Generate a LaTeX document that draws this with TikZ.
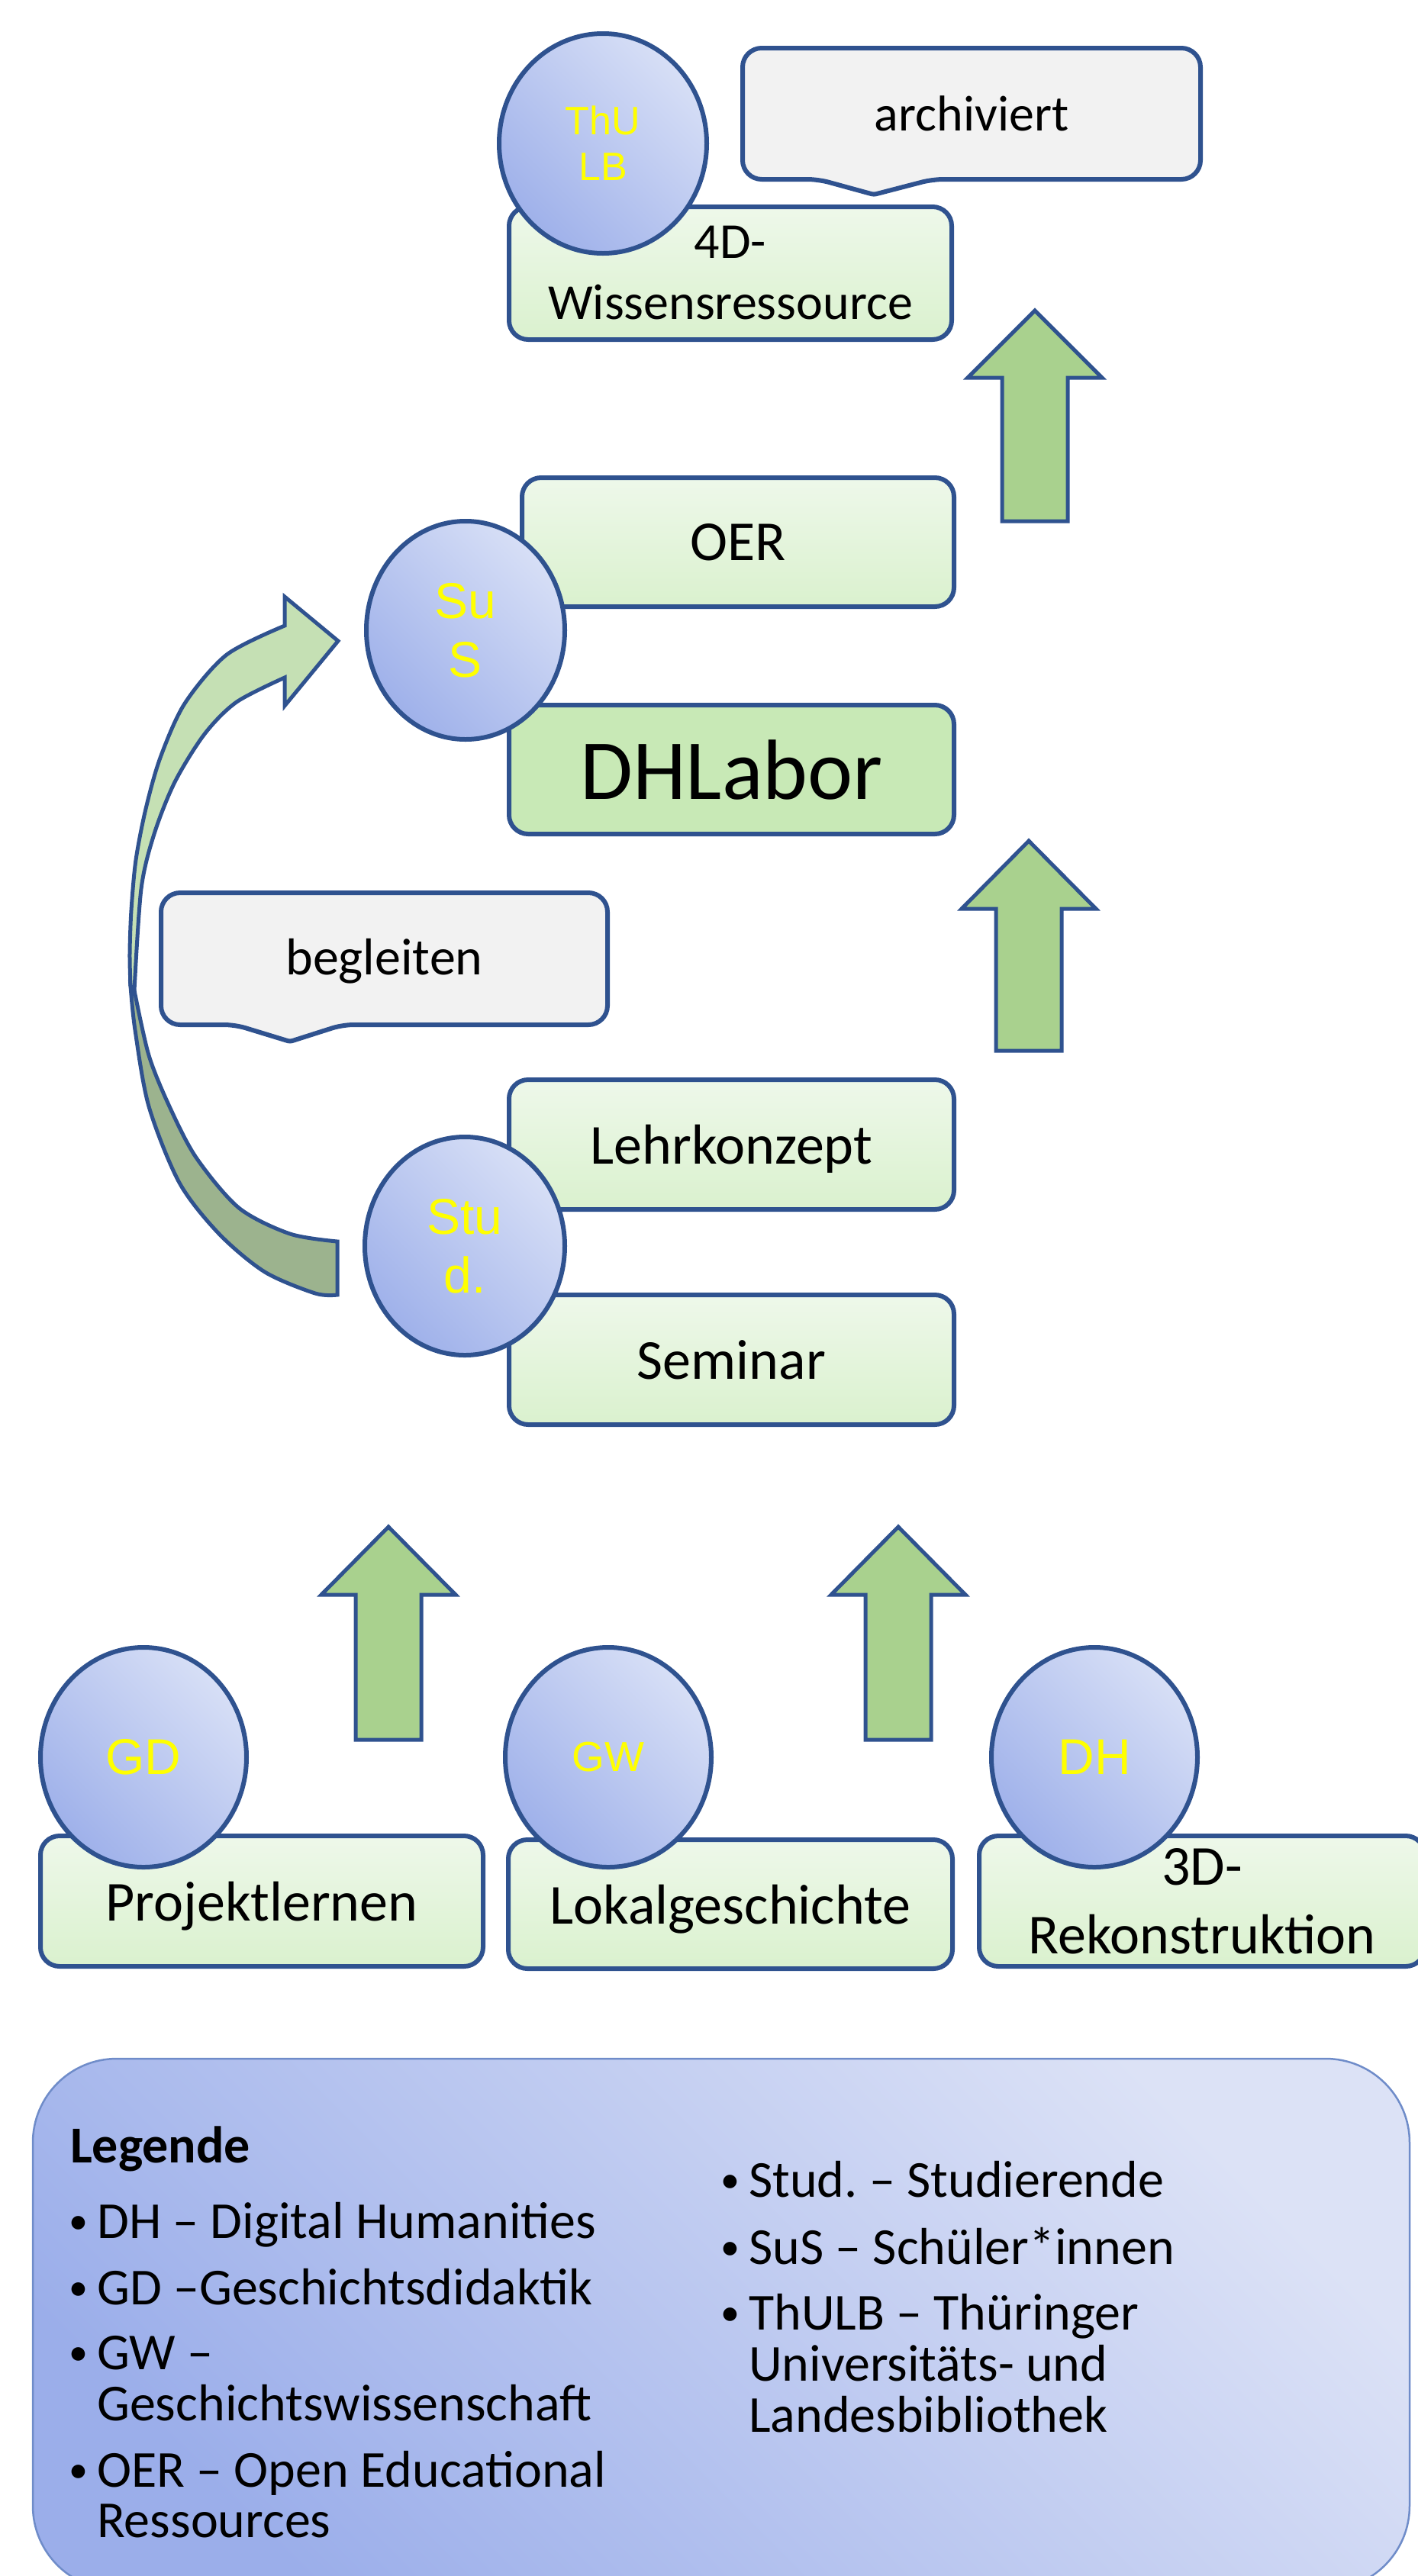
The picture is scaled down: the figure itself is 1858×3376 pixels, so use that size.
\documentclass[tikz,border=0pt]{standalone}
\usepackage{fontspec}
\setmainfont{Carlito}
\newfontfamily\arialf{Liberation Sans}
\usetikzlibrary{shapes.geometric}
\frenchspacing

\definecolor{bord}{HTML}{2F528F}
\definecolor{grT}{HTML}{EEF8EA}
\definecolor{grB}{HTML}{DAF1CE}
\definecolor{dhl}{HTML}{C8E9B6}
\definecolor{calF}{HTML}{F2F2F2}
\definecolor{arrG}{HTML}{A9D18E}
\definecolor{cvL}{HTML}{C5E0B4}
\definecolor{cvD}{HTML}{9CB38E}
\definecolor{elL}{HTML}{D7DFF6}
\definecolor{elD}{HTML}{9FB1EA}
\definecolor{legL}{HTML}{DCE2F6}
\definecolor{legD}{HTML}{9BAEEA}
\definecolor{legB}{HTML}{6F8CC9}
\definecolor{ylw}{HTML}{FFFF00}

\newcommand\bul{\llap{\fontsize{50}{50}\selectfont\raisebox{6pt}{•}\hspace{12pt}}}
\newcommand\mkuparrow[4]{% cx, tip, headbase, bottom
  \draw[blk] (#1-43,#4) -- (#1-43,#3) -- (#1-88,#3) -- (#1,#2) -- (#1+88,#3) -- (#1+43,#3) -- (#1+43,#4) -- cycle;}

\tikzset{
  bx/.style={draw=bord, line width=6pt, rounded corners=25pt, top color=grT, bottom color=grB,
    font=\fontsize{74}{90}\selectfont, align=center, inner sep=0pt},
  onel/.style={text depth=0pt},
  ell/.style={ellipse, draw=bord, line width=6pt, top color=elL, bottom color=elD, shading angle=-45,
    inner sep=0pt, text=ylw, font=\arialf\fontsize{66}{77}\selectfont, align=center},
  cal/.style={draw=bord, line width=6pt, fill=calF},
  blk/.style={fill=arrG, draw=bord, line width=5pt, line join=miter},
  curv/.style={draw=bord, line width=5pt, line join=miter},
  leg/.style={anchor=base west, inner sep=0pt, font=\fontsize{68}{67}\selectfont},
}

\begin{document}
\begin{tikzpicture}[x=1pt,y=-1pt]
\useasboundingbox (0,0) rectangle (1858,3376);
\clip (0,0) rectangle (1858,3376);

% ---------- top: 4D-Wissensressource ----------
\node[bx, minimum width=580, minimum height=174, font=\fontsize{66}{80}\selectfont] (b4d) at (957,358) {4D-\\Wissensressource};
\draw[cal, rounded corners=25pt] (1273,63) -- (1573,63) -- (1573,235) [rounded corners=14pt] -- (1222,235)
  [rounded corners=3pt] -- (1145,255) [rounded corners=14pt] -- (1072,235) [rounded corners=25pt] -- (973,235) -- (973,63) -- cycle;
\node[font=\fontsize{66}{80}\selectfont, text depth=0pt, inner sep=0pt] (arch) at (1273,149) {archiviert};
\node[ell, minimum width=272, minimum height=288, font=\arialf\fontsize{52}{60}\selectfont] (thulb) at (790,188) {ThU\\LB};

% ---------- arrows up ----------
\mkuparrow{1356}{407}{495}{683}
\mkuparrow{1348}{1102}{1191}{1377}
\mkuparrow{509}{2001}{2090}{2280}
\mkuparrow{1177}{2001}{2090}{2280}

% ---------- OER / DHLabor ----------
\node[bx, onel, minimum width=566, minimum height=169] (oer) at (967,710.5) {OER};
\node[bx, onel, fill=dhl, top color=dhl, bottom color=dhl, minimum width=583, minimum height=169,
      font=\fontsize{112}{130}\selectfont] (dhlabor) at (958.5,1008.5) {DHLabor};
\node[ell, minimum width=260, minimum height=286] (sus) at (610,826) {Su\\S};

% ---------- curved arrow ----------
\path[curv, fill=cvL] (373,820) -- plot[smooth] coordinates {(373,820) (297,858) (242,922) (210,993) (191,1060) (178,1127) (172,1193) (170,1250) (171,1292)}
  -- plot[smooth] coordinates {(176,1298) (185,1165) (202,1093) (229,1025) (268,962) (310,920) (373,888)}
  -- (373,925) -- (443,840) -- (373,782) -- cycle;
\path[curv, fill=cvD] (171,1292) -- plot[smooth] coordinates {(171,1292) (177,1350) (195,1450) (235,1550) (287,1617) (347,1667) (413,1695) (442,1697)}
  -- (442,1627) -- plot[smooth] coordinates {(442,1627) (380,1617) (313,1583) (257,1517) (222,1450) (195,1383) (176,1298)} -- cycle;

% ---------- begleiten ----------
\draw[cal, rounded corners=25pt] (503,1170) -- (796,1170) -- (796,1343) [rounded corners=14pt] -- (449,1343)
  [rounded corners=3pt] -- (380,1365) [rounded corners=14pt] -- (308,1343) [rounded corners=25pt] -- (211,1343) -- (211,1170) -- cycle;
\node[font=\fontsize{68}{80}\selectfont, text depth=0pt, inner sep=0pt] (begl) at (503.5,1254) {begleiten};

% ---------- Lehrkonzept / Seminar ----------
\node[bx, onel, minimum width=583, minimum height=170] (lehr) at (958.5,1500) {Lehrkonzept};
\node[bx, onel, minimum width=583, minimum height=170] (sem) at (958.5,1782) {Seminar};
\node[ell, minimum width=262, minimum height=286] (stud) at (609,1633) {Stu\\d.};

% ---------- bottom row ----------
\node[bx, onel, minimum width=580, minimum height=171] (proj) at (343,2491.5) {Projektlernen};
\node[bx, onel, minimum width=582, minimum height=169] (lok) at (957,2495.5) {Lokalgeschichte};
\node[bx, minimum width=584, minimum height=171] (rek) at (1575,2491.5) {3D-\\Rekonstruktion};
\node[ell, minimum width=270, minimum height=288] (gd) at (188,2303) {GD};
\node[ell, minimum width=270, minimum height=288, font=\arialf\fontsize{55}{66}\selectfont] (gw) at (797,2303) {GW};
\node[ell, minimum width=270, minimum height=288] (dh) at (1434,2303) {DH};

% ---------- legend ----------
\node[draw=legB, line width=2.5pt, rounded corners=110pt, top color=legL, bottom color=legD, shading angle=-45,
      minimum width=1804, minimum height=696, inner sep=0pt] (legend) at (945,3046) {};
\node[leg, font=\fontsize{68}{67}\selectfont\bfseries] (lgt) at (92,2834) {Legende};
\node[leg] (l1) at (127,2933) {\bul DH – Digital Humanities};
\node[leg] (l2) at (127,3020) {\bul GD –Geschichtsdidaktik};
\node[leg] (l3) at (127,3105) {\bul GW –};
\node[leg] (l3b) at (127,3172) {Geschichtswissenschaft};
\node[leg] (l4) at (127,3259) {\bul OER – Open Educational};
\node[leg] (l4b) at (127,3325) {Ressources};
\node[leg] (r1) at (981,2879) {\bul Stud. – Studierende};
\node[leg] (r2) at (981,2967) {\bul SuS – Schüler*innen};
\node[leg] (r3) at (981,3053) {\bul ThULB – Thüringer};
\node[leg] (r3b) at (981,3120) {Universitäts- und};
\node[leg] (r3c) at (981,3187) {Landesbibliothek};
\end{tikzpicture}
\end{document}
